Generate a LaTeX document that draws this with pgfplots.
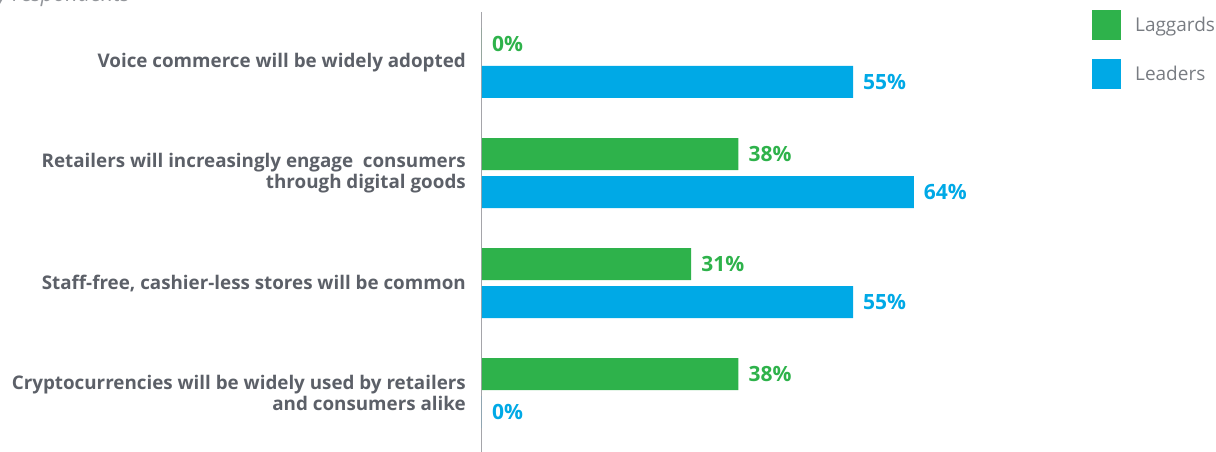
\documentclass[border=0pt]{standalone}
\usepackage{pgfplots}
\pgfplotsset{compat=1.18}
\usepackage{fontspec}
\setmainfont{Open Sans}
\definecolor{lagg}{RGB}{46,178,75}
\definecolor{lead}{RGB}{0,169,230}
\definecolor{labgray}{RGB}{92,96,104}
\definecolor{leggray}{RGB}{120,124,130}
\definecolor{axgray}{RGB}{165,165,170}
\begin{document}
\begin{tikzpicture}
\begin{axis}[
	name=ax,
	scale only axis,
	width=734pt, height=440pt,
	xbar, bar width=32pt,
	xmin=0, xmax=108.8,
	ymin=0.5364, ymax=4.536,
	y dir=reverse,
	axis x line=none,
	axis y line*=left,
	y axis line style={draw=axgray, line width=1pt},
	ytick={1,2,3,4},
	yticklabels={Voice commerce will be widely adopted,
		{Retailers will increasingly engage\ \ consumers\\through digital goods},
		{Staff-free, cashier-less stores will be common},
		{Cryptocurrencies will be widely used by retailers\\and consumers alike}},
	major tick length=0pt,
	yticklabel style={align=right, font=\fontsize{18.8}{20.5}\selectfont\bfseries,
		text=labgray, inner sep=0pt, xshift=-16pt},
	/pgf/number format/assume math mode=true,
	nodes near coords={\pgfmathprintnumber{\pgfplotspointmeta}\%},
	every node near coord/.append style={anchor=west, inner sep=0pt, xshift=10pt,
		font=\fontsize{21}{24}\selectfont\bfseries},
	legend style={at={(0.831,1.0045)}, anchor=north west, draw=none, fill=none,
		inner sep=0pt, row sep=19pt, column sep=14pt,
		nodes={inner sep=0pt, font=\fontsize{19}{22}\selectfont, text=leggray}},
	legend cell align=left,
	clip=false,
]
\addplot[fill=lagg, draw=none, bar shift=19pt, text=lagg,
	legend image code/.code={\fill[lagg] (0pt,-15pt) rectangle (29pt,15pt);}]
	coordinates {(0,1) (38,2) (31,3) (38,4)};
\addplot[fill=lead, draw=none, bar shift=-19pt, text=lead,
	legend image code/.code={\fill[lead] (0pt,-15pt) rectangle (29pt,15pt);}]
	coordinates {(55,1) (64,2) (55,3) (0,4)};
\legend{Laggards,Leaders}
\end{axis}
\node[anchor=base east, inner sep=0pt, font=\fontsize{21.5}{24}\selectfont\itshape, text=leggray!80]
	at ([xshift=-352pt,yshift=10pt]ax.north west) {by respondents};
\pgfresetboundingbox
\useasboundingbox ([xshift=-482pt]ax.south west) rectangle ([yshift=12pt]ax.north east);
\end{tikzpicture}
\end{document}
